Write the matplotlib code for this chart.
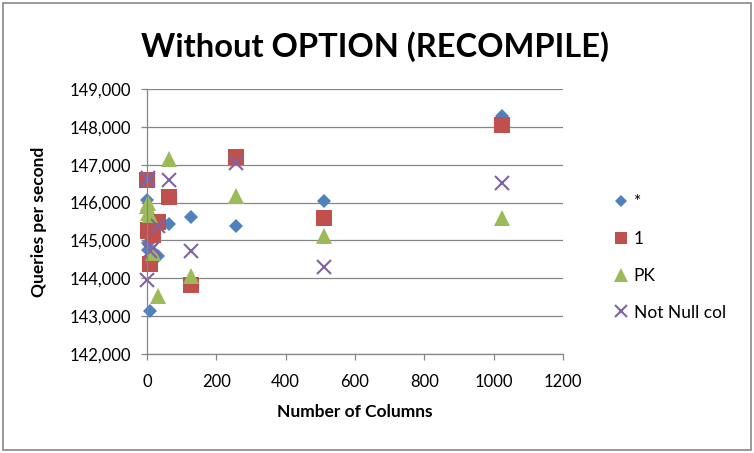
import matplotlib.pyplot as plt
from matplotlib.patches import Rectangle
from matplotlib.ticker import FuncFormatter

plt.rcParams['font.family'] = ['Lato', 'DejaVu Sans']

# number of columns in the table
columns = [1, 2, 4, 8, 16, 32, 64, 128, 256, 512, 1024]

# queries per second for each COUNT variant
star = [146080, 144930, 144750, 143130, 144700, 144600, 145440, 145610, 145370, 146030, 148280]
one = [146600, 145280, 145250, 144370, 145150, 145480, 146160, 143820, 147200, 145600, 148060]
pk = [145900, 145990, 145730, 145680, 144670, 143520, 147140, 144060, 146170, 145130, 145590]
not_null = [143960, 146600, 146650, 144710, 144800, 145370, 146600, 144710, 147040, 144300, 146520]

series = [
    ('*', star, 'D', 7.6, '#4F81BD'),
    ('1', one, 's', 11, '#C0504D'),
    ('PK', pk, '^', 11.5, '#9BBB59'),
    ('Not Null col', not_null, 'x', 10, '#8064A2'),
]

grey = '#868686'

fig = plt.figure(figsize=(7.54, 4.53), dpi=100)
fig.patches.append(Rectangle((0.004, 0.006), 0.992, 0.988, transform=fig.transFigure,
                             fill=False, edgecolor='#888888', linewidth=1.2))
ax = fig.add_axes([0.195, 0.2185, 0.5515, 0.585])

for name, vals, mk, ms, col in series:
    if mk == 'x':
        ax.plot(columns, vals, linestyle='none', marker=mk, markersize=ms,
                markeredgewidth=1.5, color=col, label=name, clip_on=False)
    else:
        ax.plot(columns, vals, linestyle='none', marker=mk, markersize=ms,
                color=col, markeredgewidth=0, label=name, clip_on=False)

ax.set_xlim(0, 1200)
ax.set_ylim(142000, 149000)
ax.set_xticks(range(0, 1201, 200))
ax.set_yticks(range(142000, 149001, 1000))
ax.yaxis.set_major_formatter(FuncFormatter(lambda v, p: f'{int(v):,}'))

ax.grid(axis='y', color=grey, linewidth=0.9)
ax.set_axisbelow(True)
for s in ['top', 'right']:
    ax.spines[s].set_visible(False)
for s in ['left', 'bottom']:
    ax.spines[s].set_color(grey)
    ax.spines[s].set_linewidth(0.9)
ax.tick_params(direction='out', length=4.5, width=0.9, color=grey,
               labelsize=12, labelcolor='black', pad=7)
ax.tick_params(axis='x', pad=10)

ax.set_xlabel('Number of Columns', fontsize=12.5, fontweight='bold', labelpad=10)
ax.set_ylabel('Queries per second', fontsize=12.5, fontweight='bold', labelpad=16)
fig.suptitle('Without OPTION (RECOMPILE)', fontsize=23.5, fontweight='bold',
             x=0.498, y=0.93)

ax.legend(loc='center left', bbox_to_anchor=(1.085, 0.365), frameon=False,
          fontsize=12.5, labelspacing=1.2, handlelength=0.8, handletextpad=0.35,
          markerscale=0.85)

fig.savefig('out.png', dpi=100)
